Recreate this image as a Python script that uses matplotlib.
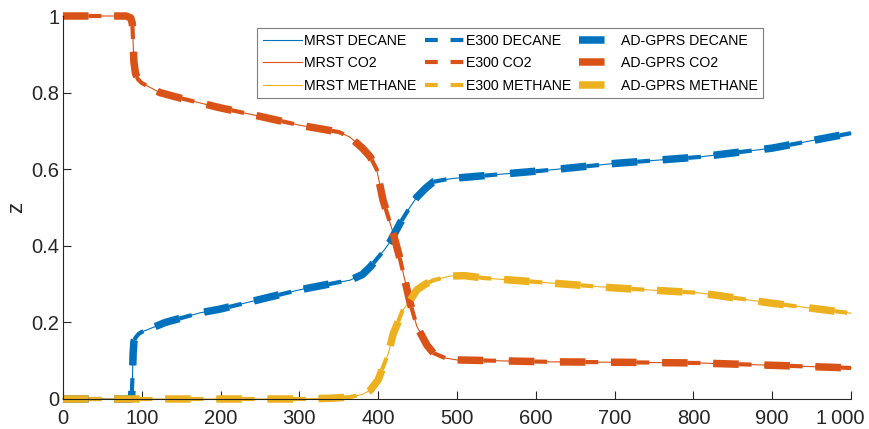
import matplotlib

matplotlib.use("Agg")
import matplotlib.pyplot as plt
from matplotlib.transforms import ScaledTranslation

plt.rcParams["font.family"] = ["Liberation Sans", "DejaVu Sans"]
plt.rcParams["lines.scale_dashes"] = False

# values (x = cell / distance, z = mole fraction)
decane_x = [0, 87, 88, 89, 90, 92, 96, 100, 130, 174, 200, 250, 300, 350, 364, 380,
            390, 400, 408, 415, 421, 428, 440, 449, 460, 470, 485, 500, 618, 700, 808, 900, 1000]
decane_z = [0, 0, 0.05, 0.12, 0.15, 0.16, 0.17, 0.175, 0.2, 0.225, 0.235, 0.26, 0.285, 0.305,
            0.31, 0.325, 0.345, 0.37, 0.39, 0.41, 0.433, 0.46, 0.50, 0.527, 0.55, 0.567,
            0.573, 0.577, 0.598, 0.615, 0.632, 0.655, 0.694]

co2_x = [0, 80, 86, 88, 89, 90, 92, 95, 100, 123, 150, 200, 241, 300, 350, 364, 380, 390,
         398, 406, 419, 428, 440, 449, 462, 470, 485, 500, 618, 700, 808, 900, 1000]
co2_z = [1, 1, 0.995, 0.98, 0.93, 0.88, 0.85, 0.835, 0.825, 0.80, 0.785, 0.76, 0.742, 0.715,
         0.697, 0.684, 0.655, 0.632, 0.6, 0.52, 0.433, 0.363, 0.255, 0.19, 0.14, 0.12, 0.107,
         0.102, 0.097, 0.096, 0.094, 0.088, 0.081]

methane_x = [0, 300, 340, 364, 380, 390, 400, 406, 413, 419, 425, 431, 440, 449, 460, 470,
             491, 510, 533, 618, 700, 808, 900, 1000]
methane_z = [0, 0, 0.002, 0.005, 0.012, 0.023, 0.05, 0.083, 0.12, 0.17, 0.2, 0.232, 0.255,
             0.285, 0.3, 0.31, 0.321, 0.322, 0.316, 0.303, 0.29, 0.277, 0.25, 0.224]

components = ["DECANE", "CO2", "METHANE"]
simulators = ["MRST", "E300", "AD-GPRS"]
colors = ["#0072BD", "#D95319", "#EDB120"]
xticks = [0, 100, 200, 300, 400, 500, 600, 700, 800, 900, 1000]
xticklabels = ["0", "100", "200", "300", "400", "500", "600", "700", "800", "900", "1\u2009000"]
yticks = [0, 0.2, 0.4, 0.6, 0.8, 1]
yticklabels = ["0", "0.2", "0.4", "0.6", "0.8", "1"]

series = [(decane_x, decane_z), (co2_x, co2_z), (methane_x, methane_z)]
styles = {
    "MRST": dict(linewidth=0.8, linestyle="-"),
    "E300": dict(linewidth=3.0, linestyle=(0, (9.2, 9.2))),
    "AD-GPRS": dict(linewidth=5.4, linestyle=(0, (18.4, 18.4))),
}

fig = plt.figure(figsize=(8.69, 4.29), dpi=100)
ax = fig.add_axes([63 / 869, 30 / 429, (851 - 63) / 869, (399 - 16) / 429])

for sim in simulators:
    for comp, (x, z), col in zip(components, series, colors):
        ax.plot(x, z, color=col, label=f"{sim} {comp}", clip_on=False, **styles[sim])

ax.set_xlim(0, 1000)
ax.set_ylim(0, 1)
ax.set_xticks(xticks, xticklabels)
ax.set_yticks(yticks, yticklabels)
ax.spines["top"].set_visible(False)
ax.spines["right"].set_visible(False)
for s in ("left", "bottom"):
    ax.spines[s].set_color("#262626")
    ax.spines[s].set_linewidth(0.8)
ax.tick_params(direction="in", length=5.5, width=0.8, colors="#262626", labelsize=14.5)
ax.tick_params(axis="y", pad=2.5)
ax.tick_params(axis="x", pad=7)
ax.set_ylabel("z", fontsize=16, color="#262626")
ax.yaxis.set_label_coords(-0.045, 0.5)

# matlab pulls the last x label inward so it stays in the figure
last = ax.get_xticklabels()[-1]
last.set_transform(last.get_transform() + ScaledTranslation(-0.11, 0, fig.dpi_scale_trans))

leg = ax.legend(
    ncol=3,
    loc="upper left",
    bbox_to_anchor=(257 / 869, 1 - 28 / 429),
    bbox_transform=fig.transFigure,
    borderaxespad=0,
    fontsize=10.2,
    handlelength=2.75,
    handletextpad=0.15,
    columnspacing=0.6,
    labelspacing=0.6,
    borderpad=0.4,
    fancybox=False,
    framealpha=1,
    edgecolor="#7f7f7f",
)
leg.get_frame().set_linewidth(0.8)

fig.savefig("out.png", dpi=100)
